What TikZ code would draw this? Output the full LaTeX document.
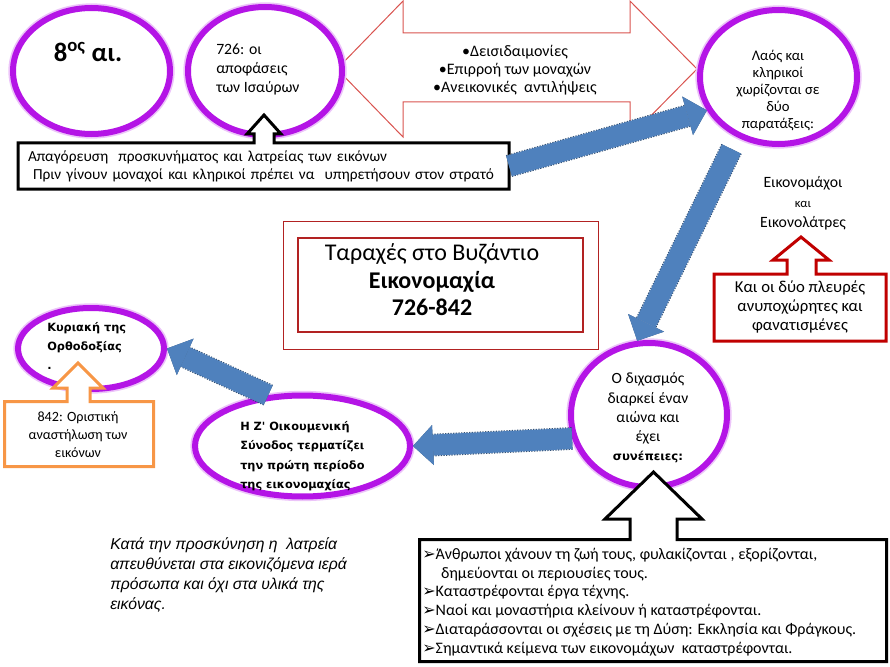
\documentclass[tikz,border=0pt]{standalone}
\usepackage{fontspec}
\setmainfont{Carlito}
\newfontfamily\verdfont{DejaVu Sans}
\newfontfamily\arialfont{Liberation Sans}
\usepackage{tikz}
\usetikzlibrary{arrows.meta,shapes.geometric}
\definecolor{orchid}{HTML}{B414E6}
\definecolor{steel}{HTML}{4F81BD}
\definecolor{brick}{HTML}{C00000}
\definecolor{tangerine}{HTML}{F79646}
\definecolor{rosy}{HTML}{D9534F}
\definecolor{wine}{HTML}{B22222}
\newcommand{\arrbul}{{\verdfont ➢}}

\begin{document}
\begin{tikzpicture}[x=0.75pt,y=-0.75pt,
  oval/.style={ellipse,draw=orchid,line width=4.5pt,fill=white,inner sep=0pt,
    preaction={draw=orchid!25,line width=7pt}},
  flow/.style={steel,line width=15.75pt,-{Triangle[length=15pt,width=30pt,line width=0pt]},
    preaction={draw=steel!60!black,line width=17pt,dash pattern=on 1pt off 1pt}},
  callout/.style={line width=2.25pt,fill=white,line join=miter},
  twoway/.style={draw=rosy,line width=0.75pt,fill=white},
  framebox/.style={draw=wine,line width=0.75pt},
  body/.style={font=\fontsize{11.5}{13.5}\selectfont,align=center,inner sep=0pt},
  heavy/.style={font=\verdfont\bfseries\fontsize{8.5}{14.5}\selectfont,align=left,inner sep=0pt}]
\useasboundingbox (0,0) rectangle (890,667);

% two-way arrow with the causes
\draw[twoway] (337,69) -- (403,1) -- (403,33) -- (630,33) -- (630,1) -- (697,69)
  -- (630,137) -- (630,102) -- (403,102) -- (403,137) -- cycle;
\node[body,font=\fontsize{12}{13.5}\selectfont] (causes) at (515,70) {•Δεισιδαιμονίες\\•Επιρροή των μοναχών\\•Ανεικονικές\ \ αντιλήψεις};

% title
\draw[framebox] (283,221) rectangle (598,349);
\draw[framebox,line width=1pt] (298,238) rectangle (583,332);
\node[body,font=\fontsize{18}{20.6}\selectfont] (title) at (432,280) {Ταραχές στο Βυζάντιο\\\textbf{Εικονομαχία}\\\textbf{726-842}};

% ovals
\node[oval,minimum width=117.75pt,minimum height=94.5pt] (c8) at (91.5,71) {};
\node[oval,minimum width=115.5pt,minimum height=96pt] (isaur) at (265,71) {};
\node[oval,minimum width=117.75pt,minimum height=100.5pt] (split) at (778.5,77) {};
\node[oval,minimum width=109.5pt,minimum height=60.75pt] (kyr) at (91,348.5) {};
\node[oval,minimum width=161.25pt,minimum height=75.75pt] (synod) at (302.5,446) {};
\node[oval,minimum width=117pt,minimum height=108pt] (schism) at (649,415) {};

\node[body,font=\bfseries\fontsize{20}{24}\selectfont] (c8txt) at (88,52) {8\textsuperscript{ος} αι.};
\node[body,align=left,font=\fontsize{11.8}{14.25}\selectfont,anchor=west] (isaurtxt) at (216,69) {726: οι\\αποφάσεις\\των Ισαύρων};
\node[body,font=\fontsize{11}{12.9}\selectfont] (splittxt) at (778,90.5) {Λαός και\\κληρικοί\\χωρίζονται σε\\δύο\\παρατάξεις:};
\node[heavy,anchor=west] (kyrtxt) at (47,346) {Κυριακή της\\Ορθοδοξίας\\.};
\node[heavy,anchor=west] (synodtxt) at (240,456) {Η Ζ' Οικουμενική\\Σύνοδος τερματίζει\\την πρώτη περίοδο\\της εικονομαχίας};
\node[body,font=\fontsize{11.7}{14.4}\selectfont] (schismtxt) at (648,418) {Ο διχασμός\\διαρκεί έναν\\αιώνα και\\έχει\\{\verdfont\bfseries\fontsize{8.8}{14.4}\selectfont συνέπειες:}};

\node[body,font=\fontsize{11.8}{15}\selectfont] (camps) at (803,203) {Εικονομάχοι\\{\fontsize{9.5}{15}\selectfont και}\\Εικονολάτρες};

% callouts
\draw[callout] (18,143) -- (254,143) -- (254,134) -- (247,134) -- (264,115) -- (281,134)
  -- (274,134) -- (274,143) -- (509,143) -- (509,189) -- (18,189) -- cycle;
\node[body,align=left,minimum width=368.25pt,minimum height=34.5pt,text width=353.25pt,outer sep=0pt] (ban) at (263.5,166)
  {Απαγόρευση\ \ προσκυνήματος και λατρείας των εικόνων\\\ Πριν γίνουν μοναχοί και κληρικοί πρέπει να\ \ υπηρετήσουν στον στρατό};

\draw[callout,draw=brick] (714,274) -- (787,274) -- (787,260) -- (773,260) -- (801,237) -- (829,260)
  -- (816,260) -- (816,274) -- (886,274) -- (886,341) -- (714,341) -- cycle;
\node[body,font=\fontsize{12.5}{14}\selectfont] (sides) at (800,307) {Και οι δύο πλευρές\\ανυποχώρητες και\\φανατισμένες};

\draw[callout,draw=tangerine] (4.5,401.5) -- (67,401.5) -- (67,388) -- (53,388) -- (78,363) -- (103,388)
  -- (90,388) -- (90,401.5) -- (153.5,401.5) -- (153.5,466.5) -- (4.5,466.5) -- cycle;
\node[body,font=\fontsize{10.6}{13.5}\selectfont] (restore) at (78,435) {842: Οριστική\\αναστήλωση των\\εικόνων};

\draw[callout] (419.5,539.5) -- (630,539.5) -- (630,519) -- (605,519) -- (653.5,472) -- (702,519)
  -- (677,519) -- (677,539.5) -- (886.5,539.5) -- (886.5,661.5) -- (419.5,661.5) -- cycle;
\node[body,align=left,anchor=west,font=\fontsize{12}{14.1}\selectfont] (results) at (422,602)
  {\arrbul Άνθρωποι χάνουν τη ζωή τους, φυλακίζονται , εξορίζονται,\\
   \phantom{\arrbul}\hspace{4pt}δημεύονται οι περιουσίες τους.\\
   \arrbul Καταστρέφονται έργα τέχνης.\\
   \arrbul Ναοί και μοναστήρια κλείνουν ή καταστρέφονται.\\
   \arrbul Διαταράσσονται οι σχέσεις με τη Δύση: Εκκλησία και Φράγκους.\\
   \arrbul Σημαντικά κείμενα των εικονομάχων\ \ καταστρέφονται.};

\node[body,align=left,anchor=west,font=\arialfont\itshape\fontsize{11.8}{15}\selectfont] (note) at (110,575)
  {Κατά την προσκύνηση η\ \ λατρεία\\απευθύνεται στα εικονιζόμενα ιερά\\πρόσωπα και όχι στα υλικά της\\εικόνας.};

% blue arrows
\draw[flow] (ban.east) -- (split.205);
\draw[flow] ([shift={(-5,12)}]split.235) -- (schism.99);
\draw[flow] (schism.197) -- (synod.east);
\draw[flow] (synod.124) -- (kyr.east);
\end{tikzpicture}
\end{document}
